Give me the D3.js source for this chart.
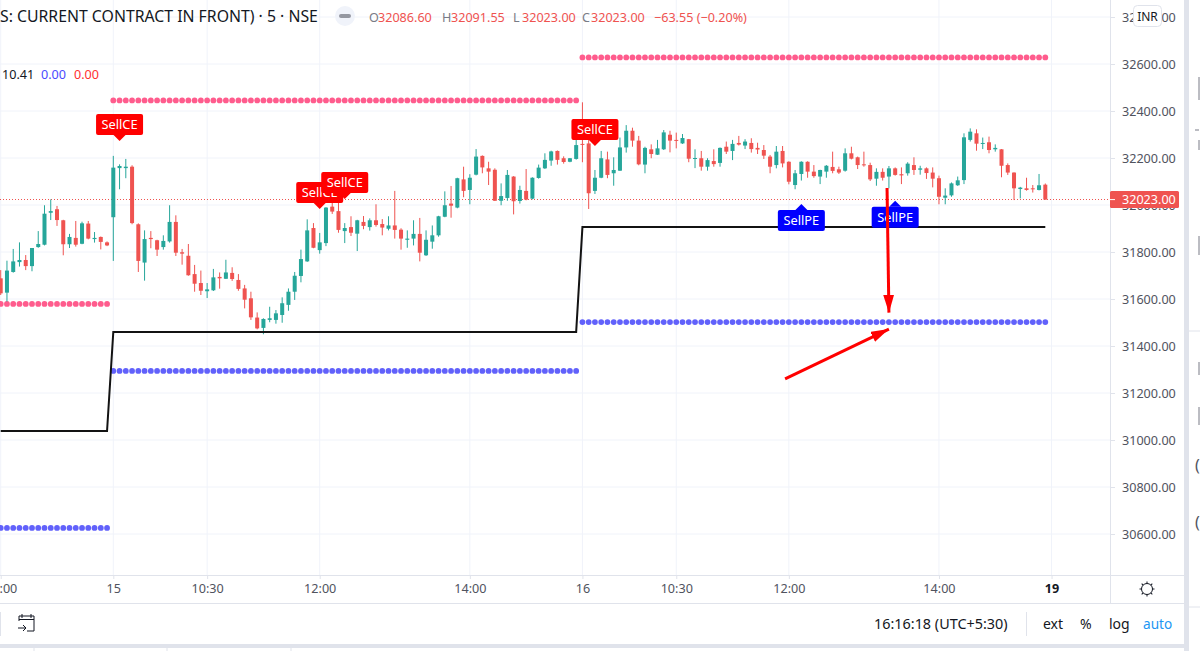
<!DOCTYPE html>
<html>
<head>
<meta charset="utf-8">
<script src="https://cdn.jsdelivr.net/npm/d3@7"></script>
<style>
html, body { margin: 0; padding: 0; background: #fff; overflow: hidden; }
text { font-family: "Noto Sans", sans-serif; }
</style>
</head>
<body>
<div id="chart"></div>
<script>
// bar number 0 = first bar of the 15th, 75 = first bar of the 16th
var firstBar = -18;
var opens = [31688,31627,31715,31757,31766,31740,31821,31831,31967,31982,31935,31833,31860,31835,31921,31855,31864,31841,
  31948,32157,32157,32163,31918,31755,31860,31850,31821,31845,31928,31799,31784,31706,31668,31633,31637,31694,31686,31711,31681,31645,31603,31521,31477,31511,31511,31532,31575,31631,31698,31760,31902,31808,31838,31993,31974,31889,31906,31878,31928,31906,31935,31919,31899,31913,31895,31852,31857,31877,31786,31844,31871,31950,32006,31989,32109,32064,32129,32209,32156,32150,32018,32030,32121,32017,32060,32027,32115,32156,32189,32230,32199,32184,32196,
  32260,32262,32060,32116,32194,32135,32146,32245,32316,32274,32172,32237,32214,32237,32299,32277,32262,32280,32197,32199,32163,32187,32179,32248,32230,32264,32253,32264,32243,32234,32206,32170,32230,32184,32085,32132,32184,32142,32121,32142,32162,32152,32146,32220,32203,32173,32170,32112,32141,32121,32156,32131,32135,32170,32150,32156,32138,32114,32031,32041,32084,32106,32277,32305,32261,32267,32237,32237,32170,32138,32068,32071,32071,32064,32086.6];
var highs = [31723,31763,31813,31841,31787,31817,31889,31999,32024,31996,31937,31877,31932,31929,31932,31885,31866,31845,
  32209,32173,32196,32169,31922,31892,31889,31852,31871,31999,31956,31813,31834,31745,31721,31668,31728,31713,31767,31735,31706,31660,31631,31543,31518,31567,31553,31607,31645,31715,31810,31939,31923,31881,31991,32071,32071,31923,31952,31937,31953,31943,32003,31940,31952,32060,31901,31892,31935,31945,31892,31913,31954,32058,32081,32116,32163,32131,32238,32211,32184,32156,32092,32149,32123,32082,32153,32118,32172,32220,32231,32232,32207,32200,32295,
  32437,32365,32149,32230,32227,32203,32287,32340,32329,32294,32248,32258,32277,32319,32316,32308,32302,32281,32237,32230,32199,32237,32245,32270,32277,32294,32280,32284,32265,32255,32213,32251,32251,32186,32149,32186,32186,32170,32150,32170,32227,32163,32241,32248,32206,32227,32180,32156,32156,32166,32160,32160,32182,32203,32167,32160,32160,32125,32071,32096,32121,32305,32326,32322,32287,32291,32258,32238,32177,32139,32077,32116,32085,32132,32091.55];
var lows = [31617,31589,31712,31738,31723,31718,31818,31828,31936,31911,31786,31817,31823,31833,31854,31840,31811,31825,
  31762,32067,32114,31918,31715,31678,31816,31783,31810,31840,31783,31746,31699,31631,31617,31604,31634,31644,31685,31677,31635,31560,31511,31471,31450,31501,31495,31499,31550,31596,31671,31758,31816,31793,31825,31962,31882,31838,31868,31804,31897,31891,31908,31871,31892,31857,31810,31818,31828,31760,31783,31814,31865,31948,31946,31986,32033,32003,32126,32135,32085,32017,31999,32018,31960,32006,32020,32024,32112,32153,32167,32172,32176,32182,32193,
  32182,31983,32047,32114,32114,32082,32145,32223,32248,32169,32135,32199,32213,32234,32224,32241,32260,32182,32157,32146,32146,32163,32163,32217,32191,32253,32238,32223,32217,32196,32135,32156,32160,32088,32067,32104,32116,32116,32089,32116,32135,32132,32142,32194,32153,32163,32102,32082,32104,32071,32125,32089,32125,32128,32129,32111,32075,32003,32003,32035,32081,32089,32270,32231,32238,32220,32227,32118,32128,32021,32028,32061,32053,32062,32023];
var closes = [31624,31721,31760,31766,31740,31817,31834,31963,31974,31936,31833,31864,31831,31922,31857,31860,31843,31828,
  32159,32166,32163,31923,31762,31855,31855,31810,31847,31928,31797,31793,31701,31665,31635,31641,31692,31688,31713,31685,31643,31597,31522,31475,31515,31518,31539,31582,31631,31699,31770,31892,31818,31841,31989,31972,31894,31902,31882,31935,31911,31935,31915,31904,31913,31894,31857,31857,31877,31797,31852,31871,31952,31999,31997,32114,32060,32116,32206,32160,32142,32018,32038,32128,32016,32064,32023,32116,32159,32192,32228,32192,32183,32199,32255,
  32257,32050,32116,32199,32128,32149,32245,32316,32274,32173,32243,32217,32241,32309,32274,32274,32285,32197,32200,32163,32191,32174,32243,32227,32260,32257,32270,32238,32236,32210,32163,32227,32177,32099,32135,32184,32142,32123,32149,32167,32145,32138,32220,32197,32170,32169,32109,32141,32116,32156,32128,32126,32176,32149,32156,32136,32112,32035,32040,32092,32105,32288,32312,32261,32264,32234,32243,32167,32138,32071,32074,32064,32067,32084,32023];

// black stop line and the two dotted levels, one entry per session
var sessionStart = [-18, 0, 75];
var sessionEnd = [-1, 74, 149];
var stopLevels = [31038, 31460, 31906];
var upperLevels = [31579, 32445, 32628];
var lowerLevels = [30626, 31294, 31502];

var sellCeBars = [1, 33, 37, 77];
var sellCePrices = [32272, 31983, 32026, 32251];
var sellPeBars = [110, 125];
var sellPePrices = [32004, 32018];

var priceTicks = [32800, 32600, 32400, 32200, 32000, 31800, 31600, 31400, 31200, 31000, 30800, 30600];
var timeTicks = [-18, 0, 15, 33, 57, 75, 90, 108, 132, 150];
var timeLabels = ["14:00", "15", "10:30", "12:00", "14:00", "16", "10:30", "12:00", "14:00", "19"];

var lastPrice = 32023;
var arrowBars = [[123.7, 124.0], [107.4, 124.0]];
var arrowPrices = [[32072, 31542], [31260, 31472]];

var paneRight = 1110, paneBottom = 575, stripBottom = 603;
var up = "#26a69a", down = "#ef5350", grid = "#f0f3fa", border = "#e0e3eb", axisText = "#50535e";

var svg = d3.select("#chart").append("svg")
  .attr("width", 1200)
  .attr("height", 651)
  .style("display", "block");

var x = d3.scaleLinear().domain([0, 149]).range([113.3, 1045.3]);
var y = d3.scaleLinear().domain([30600, 32600]).range([534, 64]);

// grid
svg.append("g").selectAll("line").data(timeTicks).enter().append("line")
  .attr("x1", d => x(d)).attr("x2", d => x(d))
  .attr("y1", 0).attr("y2", paneBottom)
  .attr("stroke", grid);
svg.append("g").selectAll("line").data(priceTicks).enter().append("line")
  .attr("x1", 0).attr("x2", paneRight)
  .attr("y1", d => y(d)).attr("y2", d => y(d))
  .attr("stroke", grid);

// axes
var rightAxis = d3.axisRight(y).tickValues(priceTicks).tickFormat(d3.format(".2f")).tickSize(5).tickPadding(7);
var priceAxis = svg.append("g").attr("transform", `translate(${paneRight},0)`).call(rightAxis);
priceAxis.select(".domain").remove();
priceAxis.selectAll("line").attr("stroke", border);
priceAxis.selectAll("text").attr("fill", axisText).style("font-size", "12.6px").style("font-family", "Noto Sans");

var bottomAxis = d3.axisBottom(x).tickValues(timeTicks).tickFormat((d, i) => timeLabels[i]).tickSize(4).tickPadding(5);
var timeAxis = svg.append("g").attr("transform", `translate(0,${paneBottom})`).call(bottomAxis);
timeAxis.select(".domain").remove();
timeAxis.selectAll("line").attr("stroke", border);
timeAxis.selectAll("text").attr("fill", axisText).style("font-size", "12.6px").style("font-family", "Noto Sans")
  .style("font-weight", (d, i) => timeLabels[i] == "19" ? "700" : "400")
  .attr("fill", (d, i) => timeLabels[i] == "19" ? "#131722" : axisText);

svg.append("line").attr("x1", 0).attr("x2", 1184).attr("y1", paneBottom + .5).attr("y2", paneBottom + .5).attr("stroke", border);
svg.append("line").attr("x1", 0).attr("x2", 1184).attr("y1", stripBottom + .5).attr("y2", stripBottom + .5).attr("stroke", border);
svg.append("line").attr("x1", paneRight + .5).attr("x2", paneRight + .5).attr("y1", 0).attr("y2", stripBottom).attr("stroke", border);

// last price line
svg.append("line")
  .attr("x1", 0).attr("x2", paneRight)
  .attr("y1", Math.floor(y(lastPrice)) + .5).attr("y2", Math.floor(y(lastPrice)) + .5)
  .attr("stroke", down).attr("stroke-dasharray", "1 2");

// dotted levels
function dots(levels, colour) {
  sessionStart.forEach(function(start, s) {
    svg.append("g").selectAll("circle")
      .data(d3.range(start, sessionEnd[s] + 1))
      .enter().append("circle")
      .attr("cx", d => x(d))
      .attr("cy", y(levels[s]))
      .attr("r", 2.9)
      .attr("fill", colour);
  });
}
dots(upperLevels, "#ff5c8d");
dots(lowerLevels, "#6161fb");

// candles
var bars = svg.append("g");
opens.forEach(function(open, i) {
  var bar = firstBar + i;
  var colour = closes[i] >= open ? up : down;
  bars.append("line")
    .attr("x1", x(bar)).attr("x2", x(bar))
    .attr("y1", y(highs[i])).attr("y2", y(lows[i]))
    .attr("stroke", colour);
  bars.append("rect")
    .attr("x", x(bar) - 2)
    .attr("width", 4)
    .attr("y", y(Math.max(open, closes[i])))
    .attr("height", Math.max(1, Math.abs(y(open) - y(closes[i]))))
    .attr("fill", colour);
});

// stop line
var stopLine = d3.line().x(d => x(d[0])).y(d => y(d[1]));
var stopPoints = [];
sessionStart.forEach(function(start, s) {
  stopPoints.push([start, stopLevels[s]]);
  stopPoints.push([sessionEnd[s], stopLevels[s]]);
});
svg.append("path")
  .attr("d", stopLine(stopPoints))
  .attr("fill", "none")
  .attr("stroke", "#131313")
  .attr("stroke-width", 2);

// SellCE hangs above its bar, SellPE sits below
function flag(bar, price, label, colour, dir) {
  var px = x(bar), py = y(price);
  var g = svg.append("g");
  var boxTop = dir > 0 ? py - 27 : py + 6;
  g.append("rect")
    .attr("x", px - 23.5).attr("y", boxTop)
    .attr("width", 47).attr("height", 21)
    .attr("rx", 2)
    .attr("fill", colour);
  g.append("path")
    .attr("d", d3.line()([[px - 6, py - 6 * dir], [px, py], [px + 6, py - 6 * dir]]))
    .attr("fill", colour);
  g.append("text")
    .attr("x", px).attr("y", boxTop + 15)
    .attr("text-anchor", "middle")
    .attr("fill", "#fff")
    .style("font-size", "12.8px")
    .text(label);
}
sellCeBars.forEach((b, i) => flag(b, sellCePrices[i], "SellCE", "#ff0000", 1));
sellPeBars.forEach((b, i) => flag(b, sellPePrices[i], "SellPE", "#0000ff", -1));

// hand drawn red arrows
svg.append("defs").append("marker")
  .attr("id", "head")
  .attr("markerUnits", "userSpaceOnUse")
  .attr("viewBox", "0 0 18 11")
  .attr("markerWidth", 18).attr("markerHeight", 11)
  .attr("refX", 18).attr("refY", 5.5)
  .attr("orient", "auto")
  .append("path").attr("d", "M0,0L18,5.5L0,11Z").attr("fill", "#ff0000");
arrowBars.forEach(function(bs, i) {
  svg.append("line")
    .attr("x1", x(bs[0])).attr("y1", y(arrowPrices[i][0]))
    .attr("x2", x(bs[1])).attr("y2", y(arrowPrices[i][1]))
    .attr("stroke", "#ff0000").attr("stroke-width", 3)
    .attr("marker-end", "url(#head)");
});

// last price tag
svg.append("rect").attr("x", paneRight).attr("y", 191).attr("width", 69).attr("height", 17).attr("rx", 1.5).attr("fill", down);
svg.append("line").attr("x1", paneRight).attr("x2", paneRight + 5).attr("y1", y(lastPrice)).attr("y2", y(lastPrice)).attr("stroke", "#fff");
svg.append("text").attr("x", paneRight + 12).attr("y", 204).attr("fill", "#fff").style("font-size", "12.6px").text("32023.00");

// currency button
svg.append("rect").attr("x", 1133.5).attr("y", 5.5).attr("width", 28).attr("height", 21).attr("rx", 4)
  .attr("fill", "#fff").attr("stroke", border);
svg.append("text").attr("x", 1147.5).attr("y", 21).attr("text-anchor", "middle").attr("fill", "#131722").style("font-size", "12px").text("INR");

// legend
function legend(px, py, txt, colour, size) {
  return svg.append("text").attr("x", px).attr("y", py).attr("fill", colour).style("font-size", size || "12.6px").text(txt);
}
legend(0, 22, "S: CURRENT CONTRACT IN FRONT) · 5 · NSE", "#131722", "15.8px");
svg.append("circle").attr("cx", 345).attr("cy", 16).attr("r", 10).attr("fill", "#f0f3fa");
svg.append("rect").attr("x", 339).attr("y", 14).attr("width", 12).attr("height", 4).attr("rx", 2).attr("fill", "#9598a1");
var ohlcX = [369, 378, 442, 451, 513, 522, 582, 591, 654];
var ohlcText = ["O", "32086.60", "H", "32091.55", "L", "32023.00", "C", "32023.00", "−63.55 (−0.20%)"];
ohlcText.forEach(function(t, i) {
  legend(ohlcX[i], 21.5, t, t.length == 1 ? "#787b86" : down);
});
legend(2, 79, "10.41", "#131722");
legend(41, 79, "0.00", "#4a4aff");
legend(74, 79, "0.00", "#ff3030");

// bottom strip
svg.append("g").attr("fill", "none").attr("stroke", "#131722").attr("stroke-width", 1)
  .selectAll("path")
  .data(["M19,621V616H34V631H27", "M22,614V618M31,614V618M19,619.5H34", "M18,628H26M23,625L26,628L23,631"])
  .enter().append("path").attr("d", d => d);
svg.append("line").attr("x1", .5).attr("x2", .5).attr("y1", 612).attr("y2", 636).attr("stroke", border);
legend(874, 629, "16:16:18 (UTC+5:30)", "#131722", "14.4px");
svg.append("line").attr("x1", 1026.5).attr("x2", 1026.5).attr("y1", 612).attr("y2", 636).attr("stroke", border);
legend(1043, 629, "ext", "#131722", "14px");
legend(1080, 629, "%", "#131722", "14px");
legend(1109, 629, "log", "#131722", "14px");
legend(1143, 629, "auto", "#2196f3", "13.6px");

// settings gear
svg.append("circle").attr("cx", 1147).attr("cy", 589).attr("r", 5.5).attr("fill", "none").attr("stroke", "#131722");
svg.append("g").selectAll("line").data(d3.range(0, 360, 45)).enter().append("line")
  .attr("transform", d => `translate(1147,589) rotate(${d})`)
  .attr("x1", 5.5).attr("x2", 7.5)
  .attr("stroke", "#131722");

// page frame around the chart
svg.append("rect").attr("x", 1184).attr("y", 0).attr("width", 5).attr("height", 651).attr("fill", border);
svg.append("rect").attr("x", 0).attr("y", 644).attr("width", 1189).attr("height", 4).attr("fill", border);
[34, 167, 291].forEach(d => svg.append("line").attr("x1", d).attr("x2", d).attr("y1", 648).attr("y2", 651).attr("stroke", border));
[[1199, 77, 1199, 100], [1199, 140, 1199, 150], [1195, 130, 1199, 130], [1199, 236, 1199, 255], [1199, 362, 1199, 375], [1199, 407, 1199, 425], [1189, 331, 1200, 331], [1189, 607, 1200, 607]]
  .forEach(function(d, i) {
    svg.append("line").attr("x1", d[0]).attr("y1", d[1]).attr("x2", d[2]).attr("y2", d[3])
      .attr("stroke", i > 5 ? border : "#787b86");
  });
[465, 522].forEach(d => svg.append("text").attr("x", 1195).attr("y", d + 6).attr("fill", "#50535e").style("font-size", "16px").text("("));
</script>
</body>
</html>
